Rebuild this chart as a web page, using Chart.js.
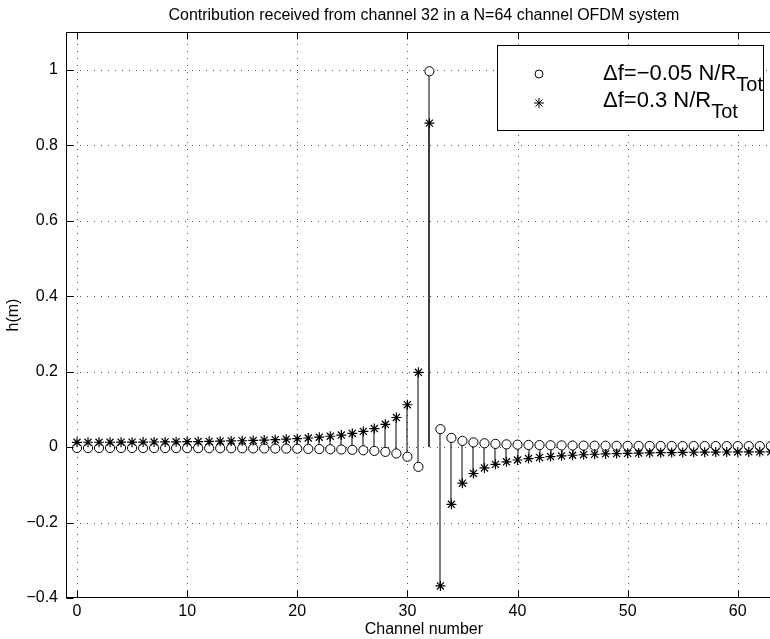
<!DOCTYPE html>
<html><head><meta charset="utf-8">
<script src="https://cdn.jsdelivr.net/npm/chart.js@4"></script>
<style>html,body{margin:0;padding:0;background:#fff;overflow:hidden;width:770px;height:639px}#wrap{width:770px;height:639px;position:relative;overflow:hidden}canvas{display:block}</style>
</head><body><div id="wrap"><canvas id="c" width="788" height="639" style="width:788px;height:639px"></canvas></div>
<script>
// ---- data ----
const channels = [0,1,2,3,4,5,6,7,8,9,10,11,12,13,14,15,16,17,18,19,20,21,22,23,24,25,26,27,28,29,30,31,32,33,34,35,36,37,38,39,40,41,42,43,44,45,46,47,48,49,50,51,52,53,54,55,56,57,58,59,60,61,62,63];
const hCircle = [-0.0024,-0.0025,-0.0025,-0.0025,-0.0025,-0.0025,-0.0026,-0.0026,-0.0027,-0.0027,-0.0028,-0.0029,-0.0030,-0.0031,-0.0032,-0.0033,-0.0035,-0.0037,-0.0039,-0.0041,-0.0044,-0.0048,-0.0052,-0.0058,-0.0064,-0.0073,-0.0085,-0.0102,-0.0127,-0.0169,-0.0256,-0.0524,
  0.9959,
  0.0475,0.0243,0.0164,0.0124,0.0100,0.0084,0.0072,0.0064,0.0057,0.0052,0.0047,0.0044,0.0041,0.0038,0.0036,0.0035,0.0033,0.0032,0.0030,0.0029,0.0029,0.0028,0.0027,0.0027,0.0026,0.0026,0.0025,0.0025,0.0025,0.0025,0.0025];
const hStar = [0.0126,0.0127,0.0127,0.0128,0.0129,0.0130,0.0132,0.0134,0.0136,0.0139,0.0142,0.0146,0.0151,0.0156,0.0162,0.0168,0.0176,0.0185,0.0196,0.0208,0.0223,0.0240,0.0261,0.0287,0.0319,0.0361,0.0415,0.0491,0.0603,0.0784,0.1122,0.1982,
  0.8584,
  -0.3680,-0.1517,-0.0957,-0.0700,-0.0553,-0.0458,-0.0391,-0.0343,-0.0305,-0.0276,-0.0252,-0.0233,-0.0217,-0.0203,-0.0191,-0.0181,-0.0173,-0.0166,-0.0159,-0.0154,-0.0149,-0.0145,-0.0141,-0.0138,-0.0135,-0.0133,-0.0131,-0.0129,-0.0128,-0.0127,-0.0127];
const xTicks = [0,10,20,30,40,50,60];
const xTickLabels = ['0','10','20','30','40','50','60'];
const yTicks = [-0.4,-0.2,0,0.2,0.4,0.6,0.8,1];
const yTickLabels = ['\u22120.4','\u22120.2','0','0.2','0.4','0.6','0.8','1'];
const seriesNames = ['\u0394f=\u22120.05 N/R', '\u0394f=0.3 N/R'];
const seriesSubs = ['Tot', 'Tot'];
const titleText = 'Contribution received from channel 32 in a N=64 channel OFDM system';
const xTitle = 'Channel number';
const yTitle = 'h(m)';

const FONT = '"Liberation Sans", Arial, Helvetica, sans-serif';
Chart.defaults.font.family = FONT;
Chart.defaults.color = '#000';

function line(ctx,x1,y1,x2,y2){ctx.beginPath();ctx.moveTo(x1,y1);ctx.lineTo(x2,y2);ctx.stroke();}

const decor = {
  id: 'decor',
  beforeDatasetsDraw(chart){
    const {ctx, chartArea:a, scales:{x,y}} = chart;
    ctx.save();
    ctx.beginPath(); ctx.rect(a.left, a.top, a.right-a.left, a.bottom-a.top); ctx.clip();
    // dotted grid
    ctx.strokeStyle = '#555'; ctx.lineWidth = 1; ctx.setLineDash([1,6]);
    xTicks.forEach(v=>{const px=Math.round(x.getPixelForValue(v))+0.5; line(ctx,px,a.bottom,px,a.top);});
    yTicks.forEach(v=>{const py=Math.round(y.getPixelForValue(v))+0.5; line(ctx,a.left,py,a.right,py);});
    ctx.setLineDash([]);
    // stems
    ctx.strokeStyle = '#000'; ctx.lineWidth = 1;
    const y0 = y.getPixelForValue(0);
    chart.data.datasets.forEach(ds=>{
      ds.data.forEach(p=>{
        const px = Math.round(x.getPixelForValue(p.x));
        line(ctx, px, y0, px, y.getPixelForValue(p.y));
      });
    });
    ctx.restore();
  },
  afterDraw(chart){
    const {ctx, chartArea:a, scales:{x,y}} = chart;
    ctx.save();
    // frame
    ctx.strokeStyle = '#000'; ctx.lineWidth = 1;
    const L = Math.round(a.left)+0.5, T = Math.round(a.top)+0.5, R = Math.round(a.right)-0.5, B = Math.round(a.bottom)-0.5;
    ctx.strokeRect(L, T, R-L, B-T);
    // inward ticks
    const tl = 7;
    xTicks.forEach(v=>{const px=Math.round(x.getPixelForValue(v))+0.5; line(ctx,px,B,px,B-tl); line(ctx,px,T,px,T+tl);});
    yTicks.forEach(v=>{const py=Math.round(y.getPixelForValue(v))+0.5; line(ctx,L,py,L+tl,py); line(ctx,R,py,R-tl,py);});
    // title
    ctx.fillStyle = '#000';
    ctx.font = '16px ' + FONT;
    ctx.textAlign = 'center'; ctx.textBaseline = 'middle';
    ctx.fillText(titleText, (a.left + a.right)/2, 16);
    // legend
    const bw = 266, bh = 85;
    const bx = Math.round(a.right) - 19 - bw + 0.5, by = Math.round(a.top) + 13 + 0.5;
    ctx.fillStyle = '#fff'; ctx.fillRect(bx, by, bw, bh);
    ctx.strokeStyle = '#000'; ctx.lineWidth = 1; ctx.strokeRect(bx, by, bw, bh);
    const mx = bx + 41.5;
    const markerY = [by + 28.5, by + 57.5];
    const baseY = [by + 34.5, by + 61.5];
    const styles = ['circle','star'];
    const radii = [4, 5];
    for (let i=0;i<2;i++){
      ctx.strokeStyle = '#000';
      ctx.fillStyle = i === 0 ? '#fff' : '#000';
      Chart.helpers.drawPoint(ctx, {pointStyle: styles[i], radius: radii[i], borderWidth: 1}, mx, markerY[i]);
      ctx.fillStyle = '#000';
      ctx.textAlign = 'left'; ctx.textBaseline = 'alphabetic';
      ctx.font = '22px ' + FONT;
      const tx = bx + 105.5;
      ctx.fillText(seriesNames[i], tx, baseY[i]);
      const w = ctx.measureText(seriesNames[i]).width;
      ctx.font = '20px ' + FONT;
      ctx.fillText(seriesSubs[i], tx + w, baseY[i] + 10.5);
    }
    ctx.restore();
  }
};

const ctx = document.getElementById('c').getContext('2d');
new Chart(ctx, {
  type: 'scatter',
  data: {
    datasets: [
      {
        label: seriesNames[0] + seriesSubs[0],
        data: channels.map((m,i)=>({x:m, y:hCircle[i]})),
        pointStyle: 'circle', pointRadius: 4.6, pointHoverRadius: 4.6,
        borderColor: '#000', backgroundColor: '#fff', borderWidth: 1, showLine: false, order: 1
      },
      {
        label: seriesNames[1] + seriesSubs[1],
        data: channels.map((m,i)=>({x:m, y:hStar[i]})),
        pointStyle: 'star', pointRadius: 5, pointHoverRadius: 5,
        borderColor: '#000', backgroundColor: '#000', borderWidth: 1.2, showLine: false, order: 0
      }
    ]
  },
  options: {
    responsive: false, maintainAspectRatio: false, animation: false, devicePixelRatio: 1,
    layout: {padding: {left: 0, right: 0, top: 32, bottom: 0}},
    plugins: {legend: {display: false}, title: {display: false}, tooltip: {enabled: false}},
    events: [],
    scales: {
      x: {
        type: 'linear', min: -1, max: 64,
        afterBuildTicks: s => { s.ticks = xTicks.map(v=>({value:v})); },
        afterFit: s => { s.height = 41; s.paddingRight = 0; s.paddingLeft = 0; },
        grid: {display: false, drawTicks: false},
        border: {display: false},
        ticks: {autoSkip: false, maxRotation: 0, padding: 4, font: {size: 16}, color: '#000',
          callback: (v, i) => xTickLabels[i]},
        title: {display: true, text: xTitle, font: {size: 16}, color: '#000', padding: {top: 0, bottom: 0}}
      },
      y: {
        type: 'linear', min: -0.4, max: 1.1,
        afterBuildTicks: s => { s.ticks = yTicks.map(v=>({value:v})); },
        afterFit: s => { s.width = 66; s.paddingTop = 0; s.paddingBottom = 0; },
        grid: {display: false, drawTicks: false},
        border: {display: false},
        ticks: {autoSkip: false, padding: 8, font: {size: 16}, color: '#000',
          callback: (v, i) => yTickLabels[i]},
        title: {display: true, text: yTitle, font: {size: 16}, color: '#000', padding: {top: 4, bottom: 0}}
      }
    }
  },
  plugins: [decor]
});
</script>
</body></html>
